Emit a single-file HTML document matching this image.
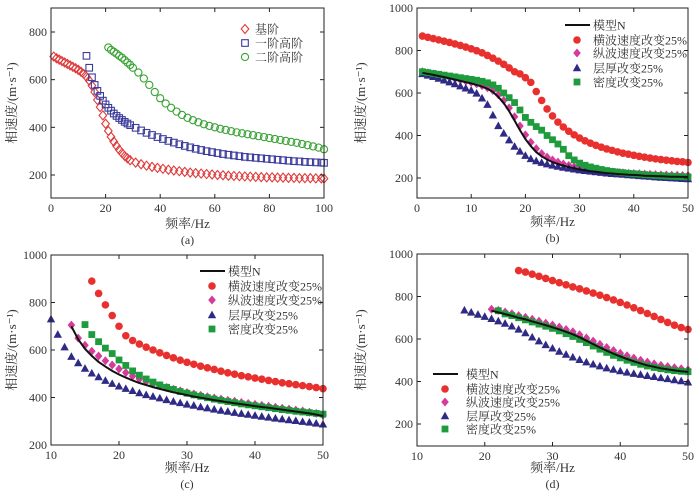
<!DOCTYPE html>
<html><head><meta charset="utf-8">
<style>
html,body{margin:0;padding:0;background:#fff;}
svg{display:block;font-family:"Liberation Serif","Noto Serif CJK SC",serif;}
</style></head>
<body>
<svg id="fig" width="700" height="492" viewBox="0 0 700 492" xmlns="http://www.w3.org/2000/svg"></svg>
<script>
// ---------- Panel (a) data ----------
const aFundX=[1,2,3,4,5,6,7,8,9,10,11,12,13,14,15,16,17,18,19,20,21,22,23,24,25,26,27,28,29,31,33,35,37,39,41,43,45,47,49,51,53,55,57,59,61,63,65,67,69,71,73,75,77,79,81,83,85,87,89,91,93,95,97,99,100];
const aFundV=[697,690,684,678,672,666,660,654,648,641,633,624,612,596,575,548,515,485,450,415,385,360,340,322,306,292,280,270,262,252,245,239,234,230,226,222,219,216,213,210,208,206,204,202,200,199,197,196,195,194,193,192,191,190,190,189,189,188,188,187,187,187,186,186,185];
const aFirstX=[13,14,15,16,17,18,19,20,21,22,23,24,25,26,27,28,29,31,33,35,37,39,41,43,45,47,49,51,53,55,57,59,61,63,65,67,69,71,73,75,77,79,81,83,85,87,89,91,93,95,97,99,100];
const aFirstV=[700,650,610,578,553,532,512,496,482,470,458,448,439,431,423,416,409,398,387,377,368,359,351,343,336,329,322,316,310,305,300,296,292,288,285,282,279,276,274,272,270,268,266,264,262,260,258,257,255,254,253,252,251];
const aSecondX=[21,22,23,24,25,26,27,28,29,30,32,34,36,38,40,42,44,46,48,50,52,54,56,58,60,62,64,66,68,70,72,74,76,78,80,82,84,86,88,90,92,94,96,98,100];
const aSecondV=[735,725,717,709,700,692,682,672,662,650,630,605,578,548,522,500,482,466,452,440,430,421,413,406,400,394,389,384,379,375,371,367,363,359,355,351,347,343,339,335,330,325,320,315,308];
const aXTicks=[0,20,40,60,80,100];
const aYTicks=[200,400,600,800];

// ---------- Panel (b) data ----------
const bX=[1,2,3,4,5,6,7,8,9,10,11,12,13,14,15,16,17,18,19,20,21,22,23,24,25,26,27,28,29,30,31,32,33,34,35,36,37,38,39,40,41,42,43,44,45,46,47,48,49,50];
const bModel=[695,690,685,680,675,669,663,657,651,645,638,630,620,605,582,553,515,470,425,383,350,322,302,287,275,266,258,251,245,240,236,232,229,226,223,221,219,217,215,214,213,211,210,209,208,207,206,206,205,205];
const bShear=[868,862,856,850,844,838,831,824,816,808,799,789,777,764,750,735,718,700,690,672,650,607,565,525,492,463,440,420,403,388,375,364,354,345,337,330,323,317,312,307,302,298,294,290,287,284,281,278,276,273];
const bPwave=[700,695,690,685,680,674,668,662,656,650,643,635,625,612,592,565,530,488,445,403,368,338,315,298,285,275,266,259,253,248,243,239,236,233,230,228,226,224,222,221,220,218,217,216,215,214,213,213,212,212];
const bLayer=[690,683,676,668,660,651,642,632,622,612,598,575,545,495,445,410,378,348,325,305,290,280,272,265,259,254,249,245,241,237,234,231,228,225,222,220,218,216,214,212,210,208,206,204,202,201,199,198,196,195];
const bDensity=[700,696,692,688,684,680,676,672,668,664,660,655,648,638,622,600,578,555,520,485,462,442,425,400,380,360,335,305,285,270,260,252,246,240,235,231,228,225,222,220,218,216,214,212,211,209,208,207,206,205];
const bXTicks=[0,10,20,30,40,50];
const bYTicks=[200,400,600,800,1000];

// ---------- Panel (c) data ----------
const cModelX=[13,14,15,16,17,18,19,20,21,22,23,24,25,26,27,28,29,30,31,32,33,34,35,36,37,38,39,40,41,42,43,44,45,46,47,48,49,50];
const cModel=[700,645,605,575,550,530,512,497,484,472,461,452,444,436,429,422,416,410,404,399,394,389,385,380,376,372,368,364,360,357,353,349,345,341,337,333,328,322];
const cShearX=[16,17,18,19,20,21,22,23,24,25,26,27,28,29,30,31,32,33,34,35,36,37,38,39,40,41,42,43,44,45,46,47,48,49,50];
const cShear=[890,838,790,745,700,660,640,625,612,600,588,577,567,557,548,540,532,525,518,511,504,498,492,487,482,477,472,467,462,458,454,450,446,442,437];
const cPwaveX=[13,14,15,16,17,18,19,20,21,22,23,24,25,26,27,28,29,30,31,32,33,34,35,36,37,38,39,40,41,42,43,44,45,46,47,48,49,50];
const cPwave=[705,650,620,595,575,555,537,520,505,490,478,467,458,450,442,435,428,421,415,409,403,398,393,388,384,379,375,371,367,363,359,355,351,347,343,338,333,326];
const cLayerX=[10,11,12,13,14,15,16,17,18,19,20,21,22,23,24,25,26,27,28,29,30,31,32,33,34,35,36,37,38,39,40,41,42,43,44,45,46,47,48,49,50];
const cLayer=[730,665,612,572,545,522,502,486,471,458,447,437,428,419,411,404,397,390,383,377,371,366,360,355,350,345,341,336,332,328,324,320,316,312,309,305,302,298,295,291,287];
const cDensityX=[15,16,17,18,19,20,21,22,23,24,25,26,27,28,29,30,31,32,33,34,35,36,37,38,39,40,41,42,43,44,45,46,47,48,49,50];
const cDensity=[707,665,635,608,585,558,535,512,494,478,465,453,443,434,425,418,411,405,399,393,388,383,378,373,369,365,361,357,353,349,346,342,339,336,333,330];
const cXTicks=[10,20,30,40,50];
const cYTicks=[200,400,600,800,1000];

// ---------- Panel (d) data ----------
const dModelX=[21,22,23,24,25,26,27,28,29,30,31,32,33,34,35,36,37,38,39,40,41,42,43,44,45,46,47,48,49,50];
const dModel=[733,725,717,709,700,692,683,674,665,655,645,634,622,608,592,576,560,545,531,518,506,495,485,476,469,462,457,452,448,445];
const dShearX=[25,26,27,28,29,30,31,32,33,34,35,36,37,38,39,40,41,42,43,44,45,46,47,48,49,50];
const dShear=[922,915,905,895,885,875,865,855,845,836,826,816,806,795,784,772,760,747,734,720,706,692,678,665,654,645];
const dPwaveX=[21,22,23,24,25,26,27,28,29,30,31,32,33,34,35,36,37,38,39,40,41,42,43,44,45,46,47,48,49,50];
const dPwave=[740,735,727,719,710,702,693,684,675,666,656,645,634,620,605,590,575,560,546,533,521,510,500,491,483,476,470,465,460,455];
const dDensityX=[22,23,24,25,26,27,28,29,30,31,32,33,34,35,36,37,38,39,40,41,42,43,44,45,46,47,48,49,50];
const dDensity=[733,718,710,700,690,680,670,660,650,638,625,612,598,583,567,552,537,523,511,500,490,481,473,466,460,455,451,448,446];
const dLayerX=[17,18,19,20,21,22,23,24,25,26,27,28,29,30,31,32,33,34,35,36,37,38,39,40,41,42,43,44,45,46,47,48,49,50];
const dLayer=[735,725,715,705,695,684,673,660,645,628,608,590,572,556,541,527,514,502,491,481,472,463,456,449,443,437,432,427,422,417,412,407,402,396];
const dXTicks=[10,20,30,40,50];
const dYTicks=[200,400,600,800,1000];

const NS="http://www.w3.org/2000/svg";
const svg=document.getElementById('fig');
const RED="#e8312f",PINK="#d63a9a",NAVY="#2f2a85",GREEN="#1e9b3c";
function mk(tag,attrs,parent){const e=document.createElementNS(NS,tag);for(const k in attrs)e.setAttribute(k,attrs[k]);(parent||svg).appendChild(e);return e;}
function txt(s,x,y,anchor,parent,size){const t=mk('text',{x:x,y:y,'text-anchor':anchor||'start','font-size':size||12,fill:'#333'},parent);t.textContent=s;return t;}

function marker(g,type,x,y,color,open){
  let e;
  if(type==='circle')e=mk('circle',{cx:x,cy:y,r:open?3.6:3.8},g);
  else if(type==='square')e=mk('rect',{x:x-(open?3.3:3.4),y:y-(open?3.3:3.4),width:open?6.6:6.8,height:open?6.6:6.8},g);
  else if(type==='diamond')e=mk('polygon',{points:`${x},${y-4.5} ${x+3.8},${y} ${x},${y+4.5} ${x-3.8},${y}`},g);
  else e=mk('polygon',{points:`${x},${y-4.4} ${x+4.2},${y+3.2} ${x-4.2},${y+3.2}`},g);
  if(open){e.setAttribute('fill','none');e.setAttribute('stroke',color);e.setAttribute('stroke-width','1.1');}
  else{e.setAttribute('fill',color);}
  
  
  return e;
}

function panel(p){
  const g=mk('g',{});
  
  
  const sx=v=>p.x0+(v-p.xd[0])/(p.xd[1]-p.xd[0])*(p.x1-p.x0);
  const sy=v=>p.yA[1]+(v-p.yA[0])*(p.yB[1]-p.yA[1])/(p.yB[0]-p.yA[0]);
  p.series.forEach(s=>{
    const sg=mk('g',{},g);
    
    
    if(s.type==='line'){
      const d=s.x.map((v,i)=>(i?'L':'M')+sx(v).toFixed(1)+','+sy(s.v[i]).toFixed(1)).join(' ');
      const l=mk('path',{d:d,fill:'none',stroke:'#111','stroke-width':2},sg);
      
      
    } else s.x.forEach((v,i)=>marker(sg,s.type,sx(v),sy(s.v[i]),s.color,s.open));
  });
  const fr=mk('rect',{x:p.x0,y:p.yt,width:p.x1-p.x0,height:p.yb-p.yt,fill:'none',stroke:'#222','stroke-width':1},g);
  
  
  p.xt.forEach(t=>{const x=sx(t);
    mk('line',{x1:x,x2:x,y1:p.yb,y2:p.yb-4,stroke:'#222'},g);
    mk('line',{x1:x,x2:x,y1:p.yt,y2:p.yt+4,stroke:'#222'},g);
    const l=txt(String(t),x,p.yb+14,'middle',g);
    
    });
  p.yt2.forEach(t=>{const y=sy(t);
    mk('line',{x1:p.x0,x2:p.x0+4,y1:y,y2:y,stroke:'#222'},g);
    mk('line',{x1:p.x1,x2:p.x1-4,y1:y,y2:y,stroke:'#222'},g);
    const l=txt(String(t),p.x0-4,y+4,'end',g);
    
    });
  const xt=txt('频率/Hz',(p.x0+p.x1)/2,p.xtitleY,'middle',g,13);
  
  
  const cy=(p.yt+p.yb)/2;
  const yt=mk('text',{x:0,y:0,'text-anchor':'middle','font-size':13,fill:'#333',transform:`translate(${p.ytitleX},${cy}) rotate(-90)`},g);
  yt.textContent='相速度/(m·s⁻¹)';
  
  
  const cap=txt('('+p.id+')',(p.x0+p.x1)/2,p.capY,'middle',g,12);
  
  
  const lg=mk('g',{},g);
  
  
  p.legend.forEach((e,i)=>{
    const y=p.lg.ys[i];
    const eg=mk('g',{},lg);
    
    
    if(e.type==='line')mk('line',{x1:p.lg.mx-12,x2:p.lg.mx+13,y1:y,y2:y,stroke:'#111','stroke-width':2},eg);
    else marker(eg,e.type,p.lg.mx,y,e.color,e.open);
    txt(e.label,p.lg.tx,y+4.5,'start',eg,12);
  });
}

const legBCD=[{type:'line',label:'模型N'},{type:'circle',color:RED,label:'横波速度改变25%'},{type:'diamond',color:PINK,label:'纵波速度改变25%'},{type:'triangle',color:NAVY,label:'层厚改变25%'},{type:'square',color:GREEN,label:'密度改变25%'}];

panel({id:'a',x0:51,x1:324,yt:8,yb:198,xd:[0,100],yA:[200,175],yB:[800,32],xt:aXTicks,yt2:aYTicks,
 xtitleY:228,ytitleX:16,capY:244,
 series:[{name:'fundamental',type:'diamond',color:'#e03a3a',open:true,x:aFundX,v:aFundV},
         {name:'first-higher',type:'square',color:'#3b3b9c',open:true,x:aFirstX,v:aFirstV},
         {name:'second-higher',type:'circle',color:'#3aa335',open:true,x:aSecondX,v:aSecondV}],
 legend:[{type:'diamond',color:'#e03a3a',open:true,label:'基阶'},{type:'square',color:'#3b3b9c',open:true,label:'一阶高阶'},{type:'circle',color:'#3aa335',open:true,label:'二阶高阶'}],
 lg:{mx:245,tx:255,ys:[29,43,57]}});

panel({id:'b',x0:417,x1:688,yt:8,yb:198,xd:[0,50],yA:[200,178],yB:[1000,8],xt:bXTicks,yt2:bYTicks,
 xtitleY:226,ytitleX:365,capY:242,
 series:[{name:'shear',type:'circle',color:RED,x:bX,v:bShear},{name:'pwave',type:'diamond',color:PINK,x:bX,v:bPwave},
         {name:'layer',type:'triangle',color:NAVY,x:bX,v:bLayer},{name:'density',type:'square',color:GREEN,x:bX,v:bDensity},
         {name:'model',type:'line',x:bX,v:bModel}],
 legend:legBCD,lg:{mx:577,tx:593,ys:[25,40,53,68,82]}});

panel({id:'c',x0:51,x1:323,yt:255,yb:445,xd:[10,50],yA:[200,445],yB:[1000,255],xt:cXTicks,yt2:cYTicks,
 xtitleY:472,ytitleX:16,capY:488,
 series:[{name:'shear',type:'circle',color:RED,x:cShearX,v:cShear},{name:'pwave',type:'diamond',color:PINK,x:cPwaveX,v:cPwave},
         {name:'layer',type:'triangle',color:NAVY,x:cLayerX,v:cLayer},{name:'density',type:'square',color:GREEN,x:cDensityX,v:cDensity},
         {name:'model',type:'line',x:cModelX,v:cModel}],
 legend:legBCD,lg:{mx:212,tx:228,ys:[271,286,300,315,329]}});

panel({id:'d',x0:417,x1:688,yt:254,yb:446,xd:[10,50],yA:[200,424],yB:[1000,254],xt:dXTicks,yt2:dYTicks,
 xtitleY:472,ytitleX:365,capY:488,
 series:[{name:'shear',type:'circle',color:RED,x:dShearX,v:dShear},{name:'pwave',type:'diamond',color:PINK,x:dPwaveX,v:dPwave},
         {name:'layer',type:'triangle',color:NAVY,x:dLayerX,v:dLayer},{name:'density',type:'square',color:GREEN,x:dDensityX,v:dDensity},
         {name:'model',type:'line',x:dModelX,v:dModel}],
 legend:legBCD,lg:{mx:445,tx:466,ys:[374,389,402,416,429]}});
</script>
</body></html>
